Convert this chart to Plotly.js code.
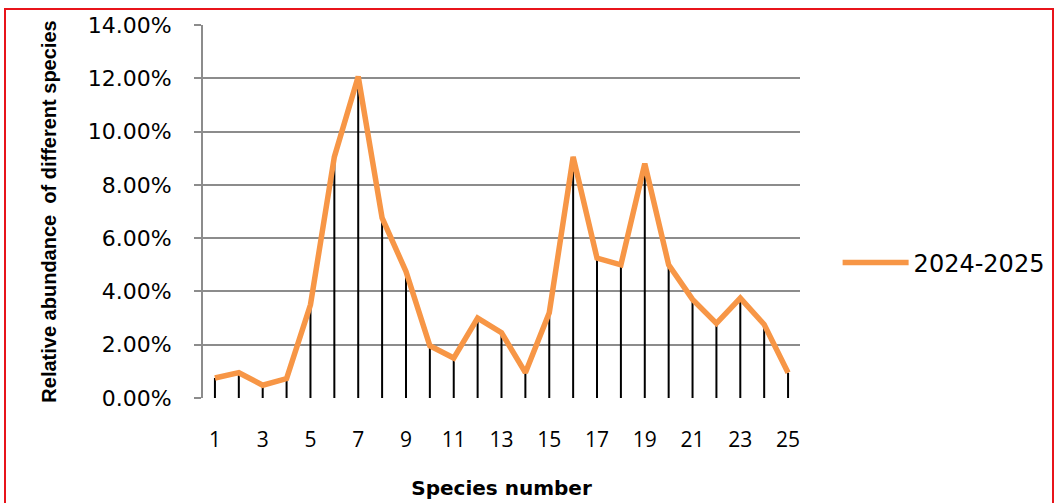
<!DOCTYPE html>
<html>
<head>
<meta charset="utf-8">
<script src="https://cdn.plot.ly/plotly-3.0.1.min.js"></script>
<style>
html,body{margin:0;padding:0;background:#fff;}
#wrap{position:relative;width:1062px;height:503px;overflow:hidden;}
#chart{width:1062px;height:503px;}
#frame{position:absolute;left:4px;top:8px;width:1046px;height:510px;border:2px solid #e8141b;pointer-events:none;}
</style>
</head>
<body>
<div id="wrap"><div id="chart"></div><div id="frame"></div></div>
<script>
// Species numbers (categories)
const species = [1,2,3,4,5,6,7,8,9,10,11,12,13,14,15,16,17,18,19,20,21,22,23,24,25];
// Relative abundance, 2024-2025
const abundance = [0.0075,0.0095,0.0048,0.0073,0.035,0.0905,0.1207,0.0676,0.0475,0.0196,0.0150,0.0300,0.0245,
                   0.0095,0.0320,0.0905,0.0525,0.0500,0.0880,0.0500,0.0370,0.0280,0.0375,0.0276,0.0095];
const seriesName = '2024-2025';
const yTitle = 'Relative abundance  of different species';
const xTitle = 'Species number';

// drop lines built from the data
const dropX = [], dropY = [];
species.forEach((s,i)=>{ dropX.push(s,s,null); dropY.push(0,abundance[i],null); });

const traces = [
  {x: dropX, y: dropY, mode: 'lines', line: {color: '#000', width: 2}, showlegend: false, hoverinfo: 'skip'},
  {x: species, y: abundance, name: seriesName, mode: 'lines', line: {color: '#F79646', width: 5.5}}
];
const layout = {
  width: 1062, height: 503,
  margin: {l: 203, r: 262, t: 25, b: 105},
  paper_bgcolor: '#fff', plot_bgcolor: '#fff',
  font: {family: 'DejaVu Sans, sans-serif', size: 17, color: '#000'},
  xaxis: {
    range: [0.5, 25.5], tick0: 1, dtick: 2, showgrid: false, zeroline: false,
    showline: false, ticks: '', ticklabelstandoff: 27,
    tickfont: {family: 'Open Sans, sans-serif', size: 21, color: '#000'},
    title: {text: xTitle, font: {family: 'DejaVu Sans, sans-serif', size: 20, color: '#000', weight: 'bold'}, standoff: 28}
  },
  yaxis: {
    range: [0, 0.14], dtick: 0.02, tickformat: '.2%',
    showgrid: true, gridcolor: '#8c8c8c', gridwidth: 2, zeroline: false,
    showline: true, linecolor: '#8c8c8c', linewidth: 2,
    ticks: 'outside', ticklen: 7, tickcolor: '#8c8c8c', tickwidth: 2,
    ticklabelstandoff: 18,
    tickfont: {family: 'DejaVu Sans, sans-serif', size: 22, color: '#000'},
    title: {text: yTitle, font: {family: 'Liberation Sans, Arial, sans-serif', size: 20, color: '#000', weight: 'bold'}, standoff: 26}
  },
  showlegend: true,
  legend: {x: 1.063, y: 0.362, xanchor: 'left', yanchor: 'middle', bgcolor: 'rgba(0,0,0,0)', itemwidth: 66,
           font: {family: 'DejaVu Sans, sans-serif', size: 24, color: '#000'}}
};
Plotly.newPlot('chart', traces, layout, {displayModeBar: false, staticPlot: true});
</script>
</body>
</html>
